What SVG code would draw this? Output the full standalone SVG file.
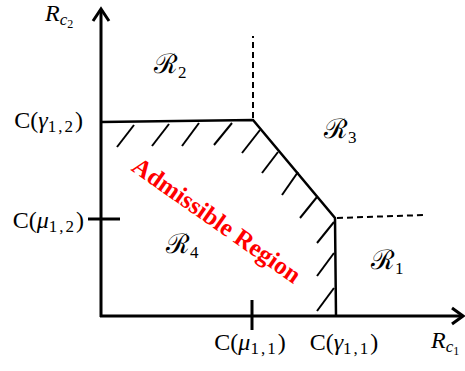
<svg xmlns="http://www.w3.org/2000/svg" width="465" height="371" viewBox="0 0 465 371">
<style>
.ax{stroke:#000;stroke-width:3;fill:none}
.bd{stroke:#000;stroke-width:2.5;fill:none}
.ht{stroke:#000;stroke-width:2;fill:none}
.ds{stroke:#000;stroke-width:2;fill:none;stroke-dasharray:6 4}
.lb{font-family:"Liberation Serif",serif;font-size:24px;fill:#000}
.sb{font-size:17px;letter-spacing:2px}
.rg{font-family:"DejaVu Serif","Liberation Serif",serif;font-size:27px;fill:#000}
.ad{font-family:"Liberation Serif",serif;font-size:25px;font-weight:bold;fill:#ff0000}
</style>
<rect width="465" height="371" fill="#fff"/>
<g id="connectors">
<line class="ax" x1="101" y1="317" x2="101" y2="10"/>
<polyline class="ax" points="93,21 101,9 109,21"/>
<line class="ax" x1="100" y1="316" x2="461" y2="316"/>
<polyline class="ax" points="452,308 463,316 452,324"/>
<line class="ax" x1="88" y1="219" x2="120" y2="219"/>
<line class="ax" x1="252" y1="300" x2="252" y2="330"/>
<polyline class="bd" points="101,122 253,120 335,218 336,316"/>
<line class="ds" x1="253" y1="118" x2="253" y2="36"/>
<line class="ds" x1="337" y1="218" x2="424" y2="215"/>
<g id="hatches">
<line class="ht" x1="117" y1="147" x2="134" y2="125"/>
<line class="ht" x1="152" y1="146" x2="169" y2="124"/>
<line class="ht" x1="182" y1="146" x2="199" y2="123"/>
<line class="ht" x1="214" y1="145" x2="232" y2="123"/>
<line class="ht" x1="242" y1="153" x2="260" y2="130"/>
<line class="ht" x1="262" y1="173" x2="278" y2="152"/>
<line class="ht" x1="282" y1="195" x2="298" y2="172"/>
<line class="ht" x1="300" y1="218" x2="317" y2="197"/>
<line class="ht" x1="317" y1="243" x2="334" y2="222"/>
<line class="ht" x1="317" y1="276" x2="334" y2="253"/>
<line class="ht" x1="317" y1="311" x2="334" y2="288"/>
</g>
</g>
<g id="axis-labels">
<text class="lb" x="45" y="21" font-style="italic">R<tspan font-size="17" dy="4">c</tspan><tspan font-size="12" dy="3" font-style="normal">2</tspan></text>
<text class="lb" x="431" y="348" font-style="italic">R<tspan font-size="17" dy="4">c</tspan><tspan font-size="12" dy="3" font-style="normal">1</tspan></text>
</g>
<g id="tick-labels">
<text class="lb" x="83" y="128" text-anchor="end">C(<tspan font-style="italic">γ</tspan><tspan class="sb" dy="4">1,2</tspan><tspan dy="-4">)</tspan></text>
<text class="lb" x="84" y="228" text-anchor="end">C(<tspan font-style="italic">μ</tspan><tspan class="sb" dy="4">1,2</tspan><tspan dy="-4">)</tspan></text>
<text class="lb" x="250" y="350" text-anchor="middle">C(<tspan font-style="italic">μ</tspan><tspan class="sb" dy="4">1,1</tspan><tspan dy="-4">)</tspan></text>
<text class="lb" x="344" y="350" text-anchor="middle">C(<tspan font-style="italic">γ</tspan><tspan class="sb" dy="4">1,1</tspan><tspan dy="-4">)</tspan></text>
</g>
<g id="R2"><text class="rg" x="154" y="73">ℛ<tspan font-family="Liberation Serif" font-size="17" dy="5">2</tspan></text></g>
<g id="R3"><text class="rg" x="324" y="138">ℛ<tspan font-family="Liberation Serif" font-size="17" dy="5">3</tspan></text></g>
<g id="R1"><text class="rg" x="371" y="269">ℛ<tspan font-family="Liberation Serif" font-size="17" dy="5">1</tspan></text></g>
<g id="R4"><text class="rg" x="166" y="253">ℛ<tspan font-family="Liberation Serif" font-size="17" dy="5">4</tspan></text></g>
<g id="admissible"><text class="ad" x="212" y="227" text-anchor="middle" transform="rotate(35 212 227)">Admissible Region</text></g>
</svg>
